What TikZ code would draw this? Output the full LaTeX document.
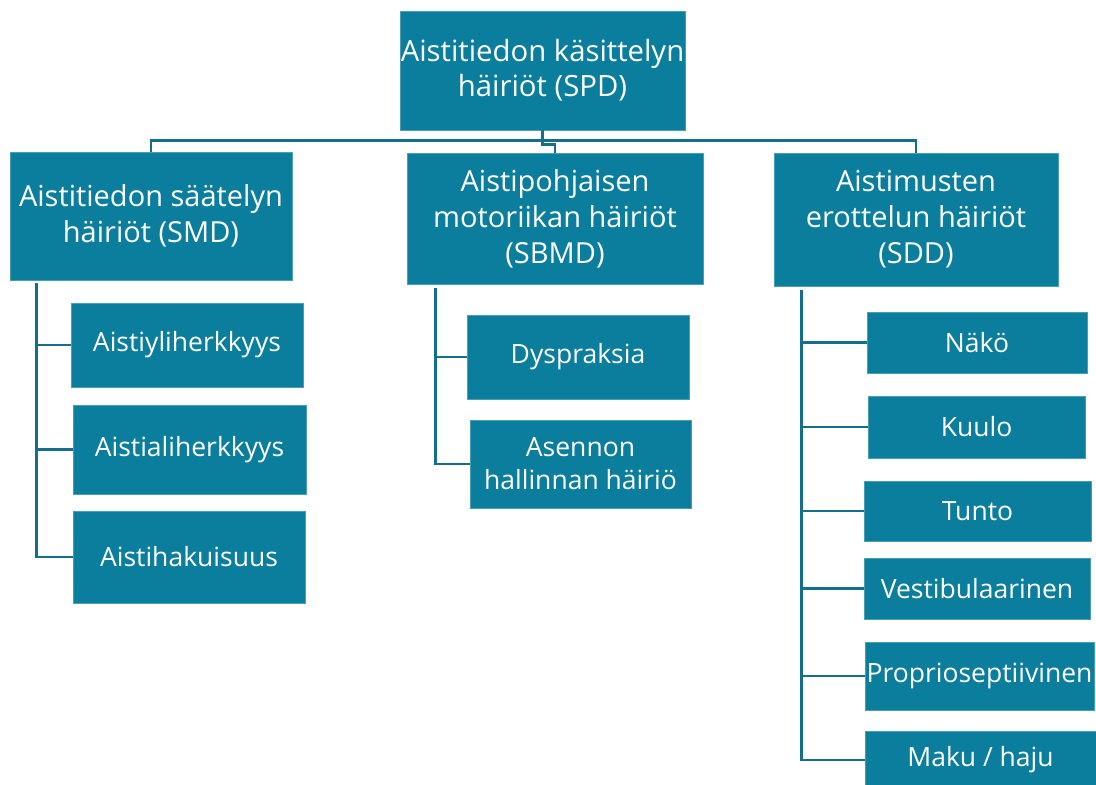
\documentclass[tikz,border=0pt]{standalone}
\usepackage{fontspec}
\setmainfont{Open Sans}
\usepackage{tikz}
\usetikzlibrary{positioning}
\definecolor{boxteal}{HTML}{0A7E9C}
\definecolor{lineteal}{HTML}{14708A}

\begin{document}
\begin{tikzpicture}[
  x=1pt, y=-1pt,
  box/.style  = {draw=boxteal!75!white, line width=0.8pt, fill=boxteal,
                 text=white, align=center, inner sep=0pt},
  top/.style  = {box, font=\fontsize{29.3}{35}\selectfont},
  mid/.style  = {box, font=\fontsize{29}{36}\selectfont},
  leaf/.style = {box, font=\fontsize{26.5}{33}\selectfont},
  conn/.style = {draw=lineteal, line width=2.6pt},
]
\useasboundingbox (0,0) rectangle (1096,785);

% ---------------- root ---------------------------------------------------
\node[top, minimum width=285pt, minimum height=119pt] (spd) at (542.5,70.5)
  {Aistitiedon käsittelyn\\häiriöt (SPD)};

% ---------------- second level ------------------------------------------
\node[mid, minimum width=282pt, minimum height=128pt] (smd)  at (151,216)
  {Aistitiedon säätelyn\\häiriöt (SMD)};
\node[mid, minimum width=296pt, minimum height=131pt] (sbmd) at (555,218.5)
  {Aistipohjaisen\\motoriikan häiriöt\\(SBMD)};
\node[mid, minimum width=284pt, minimum height=133pt] (sdd)  at (916,219.5)
  {Aistimusten\\erottelun häiriöt\\(SDD)};

% ---------------- leaves: SMD -------------------------------------------
\node[leaf, minimum width=232pt, minimum height=84pt] (yli)  at (187,345)
  {Aistiyliherkkyys};
\node[leaf, minimum width=233pt, minimum height=89pt] (ali)  at (189.5,449.5)
  {Aistialiherkkyys};
\node[leaf, minimum width=232pt, minimum height=92pt] (haku) at (189,557)
  {Aistihakuisuus};

% ---------------- leaves: SBMD ------------------------------------------
\node[leaf, minimum width=222pt, minimum height=84pt] (dysp) at (578,357)
  {Dyspraksia};
\node[leaf, minimum width=221pt, minimum height=88pt] (asen) at (580.5,464)
  {Asennon\\hallinnan häiriö};

% ---------------- leaves: SDD -------------------------------------------
\node[leaf, minimum width=220pt, minimum height=61pt] (nako)  at (977,342.5)  {Näkö};
\node[leaf, minimum width=217pt, minimum height=62pt] (kuulo) at (976.5,427)  {Kuulo};
\node[leaf, minimum width=227pt, minimum height=60pt] (tunto) at (977.5,511)  {Tunto};
\node[leaf, minimum width=226pt, minimum height=61pt] (vest)  at (977,588.5)  {Vestibulaarinen};
\node[leaf, minimum width=229pt, minimum height=68pt] (prop)  at (979.5,676)  {Proprioseptiivinen};
\node[leaf, minimum width=231pt, minimum height=58pt] (maku)  at (980.5,760)  {Maku / haju};

% ---------------- connectors --------------------------------------------
\draw[conn] (spd.south) -- ++(0,14) -| (sbmd.north);
\draw[conn] (smd.north) -- ++(0,-11) -| (sdd.north);

\foreach \c in {yli,ali,haku}
  \draw[conn] ([xshift=27pt,yshift=-3pt]smd.south west) |- (\c.west);
\foreach \c in {dysp,asen}
  \draw[conn] ([xshift=29pt,yshift=-4pt]sbmd.south west) |- (\c.west);
\foreach \c in {nako,kuulo,tunto,vest,prop,maku}
  \draw[conn] ([xshift=28pt,yshift=-4pt]sdd.south west) |- (\c.west);

\end{tikzpicture}
\end{document}
